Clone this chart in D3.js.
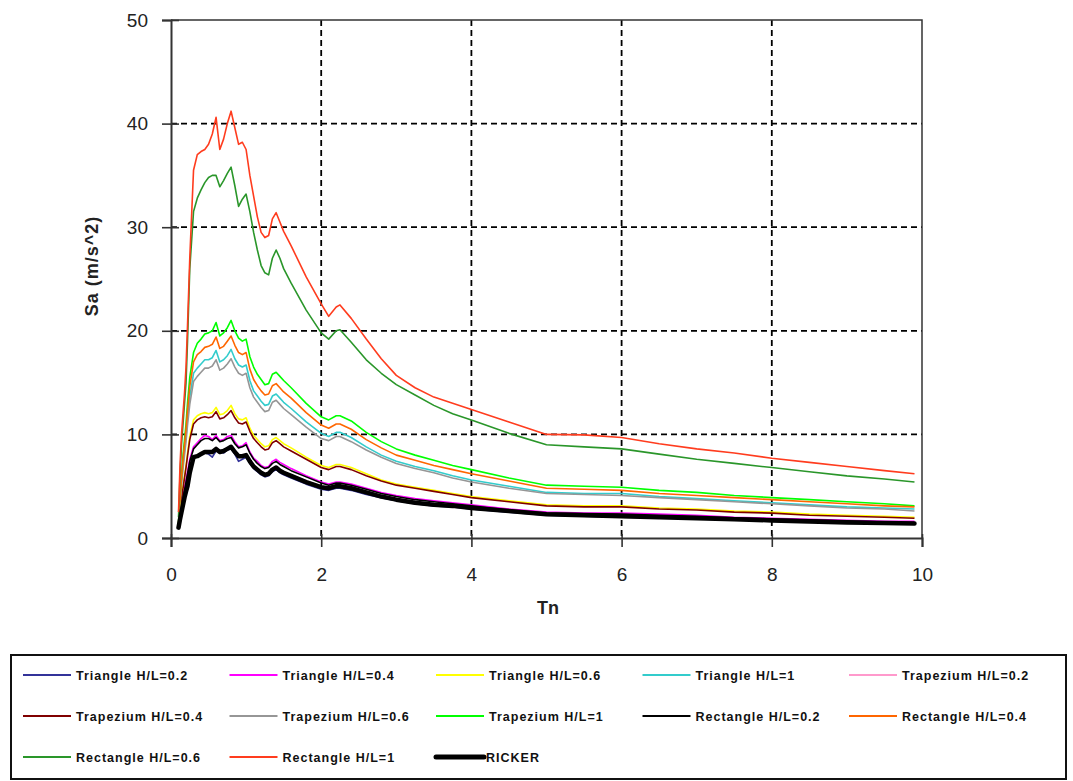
<!DOCTYPE html>
<html>
<head>
<meta charset="utf-8">
<script src="https://cdn.jsdelivr.net/npm/d3@7"></script>
<style>
  body { margin: 0; background: #fff; }
  svg { display: block; font-family: "Liberation Sans", Arial, sans-serif; }
</style>
</head>
<body>
<div id="chart"></div>
<script>
// periods (s)
var tn = [0.1, 0.12, 0.14, 0.16, 0.18, 0.2, 0.22, 0.25,
  0.3, 0.35, 0.4, 0.45, 0.5, 0.55, 0.6, 0.65, 0.7, 0.75, 0.8, 0.85, 0.9, 0.95, 1.0,
  1.05, 1.1, 1.15, 1.2, 1.25, 1.3, 1.35, 1.4, 1.45, 1.5,
  1.6, 1.8, 2.0, 2.1, 2.2, 2.25, 2.4, 2.6, 2.8, 3.0,
  3.25, 3.5, 3.75, 4.0,
  4.5, 5.0, 5.5, 6.0, 6.5, 7.0, 7.5, 8.0, 8.5, 9.0, 9.5, 9.9];

var triangle02 = [0.9, 1.8, 2.6, 3.3, 4.0, 4.6, 5.2, 6.5,
  7.7, 7.9, 8.1, 8.2, 8.1, 7.8, 8.4, 8.3, 8.2, 8.5, 8.6, 8.1, 7.4, 7.6, 7.8,
  7.2, 6.7, 6.4, 6.1, 5.9, 6.0, 6.4, 6.6, 6.3, 6.1,
  5.8, 5.2, 4.7, 4.6, 4.8, 4.8, 4.6, 4.2, 3.9, 3.6,
  3.3, 3.1, 3.0, 2.8,
  2.5, 2.2, 2.1, 2.0, 1.95, 1.85, 1.75, 1.65, 1.55, 1.5, 1.4, 1.35];
var triangle04 = [0.9, 2.0, 3.0, 3.9, 4.8, 5.6, 6.4, 7.6,
  8.8, 9.2, 9.6, 9.9, 9.8, 9.5, 9.9, 9.4, 9.5, 9.8, 9.9, 9.3, 8.8, 8.9, 9.2,
  8.3, 7.7, 7.4, 7.0, 6.8, 6.9, 7.4, 7.6, 7.3, 7.1,
  6.7, 6.0, 5.4, 5.2, 5.4, 5.4, 5.2, 4.8, 4.4, 4.1,
  3.8, 3.6, 3.4, 3.2,
  2.8, 2.5, 2.4, 2.4, 2.3, 2.2, 2.0, 1.9, 1.8, 1.7, 1.6, 1.6];
var triangle06 = [1.0, 2.5, 3.9, 5.0, 6.0, 7.0, 8.2, 9.8,
  11.4, 11.8, 12.0, 12.1, 12.0, 12.1, 12.6, 11.9, 12.0, 12.3, 12.8, 12.0, 11.5, 11.4, 11.6,
  10.6, 9.9, 9.5, 9.1, 8.8, 8.9, 9.5, 9.7, 9.4, 9.1,
  8.7, 7.8, 7.0, 6.8, 7.1, 7.1, 6.8, 6.2, 5.6, 5.2,
  4.9, 4.6, 4.3, 4.0,
  3.6, 3.2, 3.1, 3.1, 2.9, 2.8, 2.6, 2.5, 2.3, 2.2, 2.1, 2.0];
var triangle1 = [1.3, 3.5, 5.4, 7.1, 8.5, 9.8, 11.5, 13.6,
  15.9, 16.4, 16.8, 17.2, 17.2, 17.4, 18.1, 17.0, 17.2, 17.6, 18.2, 17.3, 16.7, 16.5, 16.7,
  15.2, 14.2, 13.7, 13.2, 12.8, 12.9, 13.7, 13.9, 13.5, 13.1,
  12.5, 11.2, 10.1, 9.8, 10.2, 10.2, 9.7, 8.8, 8.0, 7.4,
  6.9, 6.5, 6.0, 5.6,
  5.0, 4.4, 4.3, 4.3, 4.0, 3.8, 3.6, 3.4, 3.2, 3.0, 2.9, 2.8];
var trapezium02 = [0.9, 1.8, 2.6, 3.4, 4.1, 4.7, 5.3, 6.6,
  7.9, 8.0, 8.2, 8.4, 8.4, 8.4, 8.7, 8.4, 8.5, 8.7, 8.9, 8.4, 8.0, 8.0, 8.1,
  7.5, 7.0, 6.7, 6.4, 6.2, 6.3, 6.7, 6.9, 6.6, 6.4,
  6.1, 5.5, 5.0, 4.9, 5.1, 5.1, 4.9, 4.5, 4.1, 3.8,
  3.5, 3.3, 3.2, 3.0,
  2.7, 2.4, 2.3, 2.2, 2.1, 2.0, 1.9, 1.8, 1.7, 1.6, 1.5, 1.45];
var trapezium04 = [1.0, 2.4, 3.7, 4.8, 5.8, 6.8, 7.9, 9.5,
  11.0, 11.4, 11.6, 11.7, 11.6, 11.7, 12.2, 11.5, 11.6, 11.9, 12.3, 11.6, 11.1, 11.0, 11.2,
  10.3, 9.6, 9.2, 8.8, 8.5, 8.6, 9.2, 9.4, 9.1, 8.8,
  8.4, 7.6, 6.8, 6.6, 6.9, 6.9, 6.6, 6.0, 5.5, 5.1,
  4.8, 4.5, 4.2, 3.9,
  3.5, 3.1, 3.0, 3.0, 2.8, 2.7, 2.5, 2.4, 2.2, 2.1, 2.0, 1.9];
var trapezium06 = [1.2, 3.3, 5.1, 6.7, 8.0, 9.3, 10.9, 12.9,
  15.1, 15.6, 16.0, 16.4, 16.4, 16.6, 17.2, 16.2, 16.4, 16.8, 17.3, 16.5, 15.9, 15.7, 15.9,
  14.5, 13.6, 13.1, 12.6, 12.2, 12.3, 13.1, 13.3, 12.9, 12.5,
  11.9, 10.7, 9.6, 9.4, 9.8, 9.8, 9.3, 8.5, 7.8, 7.2,
  6.7, 6.3, 5.8, 5.4,
  4.8, 4.3, 4.2, 4.1, 3.9, 3.7, 3.5, 3.3, 3.1, 2.9, 2.8, 2.6];
var trapezium1 = [1.5, 4.0, 6.0, 8.0, 9.5, 11.0, 13.0, 15.5,
  17.9, 18.8, 19.2, 19.7, 19.8, 20.0, 20.8, 19.5, 19.8, 20.3, 21.0, 20.0, 19.3, 19.0, 19.2,
  17.5, 16.5, 15.8, 15.3, 14.8, 14.9, 15.8, 16.0, 15.6, 15.2,
  14.5, 13.0, 11.7, 11.4, 11.8, 11.8, 11.3, 10.2, 9.3, 8.6,
  8.0, 7.5, 7.0, 6.6,
  5.8, 5.1, 5.0, 4.9, 4.6, 4.4, 4.1, 3.9, 3.7, 3.5, 3.3, 3.1];
var rectangle02 = [0.9, 1.9, 2.9, 3.8, 4.6, 5.4, 6.2, 7.4,
  8.6, 9.0, 9.4, 9.6, 9.6, 9.4, 9.7, 9.3, 9.4, 9.6, 9.7, 9.1, 8.7, 8.8, 9.0,
  8.2, 7.6, 7.2, 6.9, 6.7, 6.8, 7.2, 7.4, 7.1, 6.9,
  6.5, 5.9, 5.3, 5.1, 5.3, 5.3, 5.1, 4.7, 4.3, 4.0,
  3.7, 3.5, 3.3, 3.1,
  2.7, 2.4, 2.35, 2.3, 2.2, 2.1, 1.95, 1.85, 1.75, 1.65, 1.55, 1.5];
var rectangle04 = [1.4, 3.8, 5.8, 7.6, 9.0, 10.5, 12.3, 14.6,
  17.0, 17.7, 18.0, 18.4, 18.5, 18.7, 19.4, 18.3, 18.5, 19.0, 19.5, 18.6, 17.9, 17.7, 17.9,
  16.3, 15.3, 14.7, 14.2, 13.8, 13.9, 14.7, 14.9, 14.5, 14.1,
  13.5, 12.1, 10.9, 10.6, 11.0, 11.0, 10.5, 9.5, 8.7, 8.0,
  7.5, 7.0, 6.6, 6.2,
  5.5, 4.8, 4.7, 4.6, 4.3, 4.1, 3.9, 3.7, 3.5, 3.3, 3.1, 3.0];
var rectangle06 = [2.0, 6.0, 9.0, 11.0, 13.0, 15.0, 19.0, 26.0,
  31.5, 32.8, 33.6, 34.3, 34.8, 35.0, 35.0, 33.9, 34.5, 35.2, 35.8, 34.0, 32.0, 32.7, 33.2,
  31.5, 29.5, 27.8, 26.3, 25.6, 25.4, 27.0, 27.8, 27.0, 26.0,
  24.6, 22.0, 19.8, 19.2, 20.0, 20.1, 18.9, 17.2, 15.9, 14.8,
  13.8, 12.8, 12.0, 11.4,
  10.1, 9.0, 8.8, 8.6, 8.1, 7.6, 7.2, 6.8, 6.4, 6.0, 5.7, 5.4];
var rectangle1 = [2.5, 7.0, 10.0, 12.0, 14.0, 16.5, 20.5, 27.0,
  35.5, 37.0, 37.3, 37.5, 38.0, 39.0, 40.6, 37.5, 38.5, 40.0, 41.2, 39.6, 38.0, 38.2, 37.5,
  35.0, 33.0, 31.0, 29.5, 29.0, 29.2, 30.8, 31.4, 30.5, 29.6,
  28.2, 25.2, 22.6, 21.4, 22.3, 22.5, 21.2, 19.2, 17.3, 15.7,
  14.5, 13.6, 13.0, 12.4,
  11.2, 10.0, 9.95, 9.7, 9.1, 8.6, 8.2, 7.7, 7.3, 6.9, 6.5, 6.2];
var ricker = [1.0, 1.8, 2.5, 3.2, 3.9, 4.5, 5.0, 6.3,
  7.8, 7.9, 8.1, 8.3, 8.3, 8.3, 8.6, 8.3, 8.4, 8.6, 8.8, 8.3, 7.9, 7.9, 8.0,
  7.4, 6.9, 6.6, 6.3, 6.1, 6.2, 6.6, 6.8, 6.5, 6.3,
  6.0, 5.4, 4.9, 4.8, 5.0, 5.0, 4.8, 4.4, 4.0, 3.7,
  3.4, 3.2, 3.1, 2.9,
  2.6, 2.3, 2.2, 2.1, 2.0, 1.9, 1.8, 1.7, 1.6, 1.5, 1.45, 1.4];

var seriesNames = ["Triangle H/L=0.2", "Triangle H/L=0.4", "Triangle H/L=0.6", "Triangle H/L=1",
  "Trapezium H/L=0.2", "Trapezium H/L=0.4", "Trapezium H/L=0.6", "Trapezium H/L=1",
  "Rectangle H/L=0.2", "Rectangle H/L=0.4", "Rectangle H/L=0.6", "Rectangle H/L=1", "RICKER"];
var seriesValues = [triangle02, triangle04, triangle06, triangle1,
  trapezium02, trapezium04, trapezium06, trapezium1,
  rectangle02, rectangle04, rectangle06, rectangle1, ricker];
var seriesColors = ["#333399", "#ff00ff", "#ffff00", "#33cccc",
  "#ff99cc", "#800000", "#969696", "#00ff00",
  "#000000", "#ff6600", "#2a962a", "#ff3c1e", "#000000"];

var xTicks = [0, 2, 4, 6, 8, 10];
var yTicks = [0, 10, 20, 30, 40, 50];

(function () {
    var width = 1073, height = 781;
    var plotLeft = 171, plotRight = 922, plotTop = 20, plotBottom = 538;

    var svg = d3.select("#chart").append("svg")
        .attr("width", width)
        .attr("height", height);

    svg.append("rect").attr("width", width).attr("height", height).attr("fill", "#fff");

    var x = d3.scaleLinear().domain([0, 10]).range([plotLeft, plotRight]);
    var y = d3.scaleLinear().domain([0, 50]).range([plotBottom, plotTop]);

    // dashed grid
    svg.append("g").selectAll("line")
        .data(yTicks.filter(function (d) { return d > 0 && d < 50; }))
        .enter().append("line")
        .attr("x1", plotLeft).attr("x2", plotRight)
        .attr("y1", function (d) { return y(d); })
        .attr("y2", function (d) { return y(d); })
        .attr("stroke", "#000").attr("stroke-width", 1.8)
        .attr("stroke-dasharray", "6,4");

    svg.append("g").selectAll("line")
        .data(xTicks.filter(function (d) { return d > 0 && d < 10; }))
        .enter().append("line")
        .attr("y1", plotTop).attr("y2", plotBottom)
        .attr("x1", function (d) { return x(d); })
        .attr("x2", function (d) { return x(d); })
        .attr("stroke", "#000").attr("stroke-width", 1.8)
        .attr("stroke-dasharray", "6,4");

    // plot frame (top/right)
    svg.append("path")
        .attr("d", "M" + plotLeft + "," + plotTop + "H" + plotRight + "V" + plotBottom)
        .attr("fill", "none").attr("stroke", "#333").attr("stroke-width", 1.5);

    // series
    var line = d3.line()
        .x(function (d, i) { return x(tn[i]); })
        .y(function (d) { return y(d); });

    svg.append("g").selectAll("path")
        .data(seriesValues)
        .enter().append("path")
        .attr("d", line)
        .attr("fill", "none")
        .attr("stroke", function (d, i) { return seriesColors[i]; })
        .attr("stroke-width", function (d, i) { return i === 12 ? 4.5 : 1.6; })
        .attr("stroke-linejoin", "round")
        .attr("stroke-linecap", function (d, i) { return i === 12 ? "round" : "butt"; });

    // axes
    var yAxis = svg.append("g")
        .attr("transform", "translate(" + plotLeft + ",0)")
        .call(d3.axisLeft(y).tickValues(yTicks).tickSize(9).tickPadding(14));
    var xAxis = svg.append("g")
        .attr("transform", "translate(0," + plotBottom + ")")
        .call(d3.axisBottom(x).tickValues(xTicks).tickSize(9).tickPadding(21));

    [yAxis, xAxis].forEach(function (ax) {
        ax.select(".domain").attr("stroke", "#333").attr("stroke-width", 2);
        ax.selectAll(".tick line").attr("stroke", "#333").attr("stroke-width", 1.6);
        ax.selectAll(".tick text")
            .attr("fill", "#222")
            .style("font-size", "19px")
            .style("font-family", "'Liberation Sans', Arial, sans-serif");
    });
    yAxis.selectAll(".tick line").attr("x2", -9).attr("x1", 8);
    xAxis.selectAll(".tick line").attr("y2", 9).attr("y1", -4);

    // axis titles
    svg.append("text")
        .attr("transform", "translate(98,266) rotate(-90)")
        .attr("text-anchor", "middle")
        .style("font-size", "18px").style("font-weight", "bold")
        .style("letter-spacing", "1px")
        .attr("fill", "#222")
        .text("Sa (m/s^2)");

    svg.append("text")
        .attr("x", 548).attr("y", 614)
        .attr("text-anchor", "middle")
        .style("font-size", "18px").style("font-weight", "bold")
        .attr("fill", "#222")
        .text("Tn");

    // legend
    svg.append("rect")
        .attr("x", 11).attr("y", 655)
        .attr("width", 1055).attr("height", 124)
        .attr("fill", "#fff").attr("stroke", "#111").attr("stroke-width", 2);

    var legend = svg.append("g").selectAll("g")
        .data(seriesNames)
        .enter().append("g")
        .attr("transform", function (d, i) {
            return "translate(" + (23 + (i % 5) * 206.5) + "," + (675 + Math.floor(i / 5) * 41) + ")";
        });

    legend.append("line")
        .attr("x1", 0).attr("x2", 48)
        .attr("stroke", function (d, i) { return seriesColors[i]; })
        .attr("stroke-width", function (d, i) { return i === 12 ? 5 : 2; })
        .attr("stroke-linecap", function (d, i) { return i === 12 ? "round" : "butt"; });

    legend.append("text")
        .attr("x", function (d, i) { return i === 12 ? 50 : 53; })
        .attr("dy", "0.36em")
        .style("font-size", "12.5px").style("font-weight", "bold")
        .style("letter-spacing", "1px")
        .attr("fill", "#111")
        .text(function (d) { return d; });
})();
</script>
</body>
</html>
